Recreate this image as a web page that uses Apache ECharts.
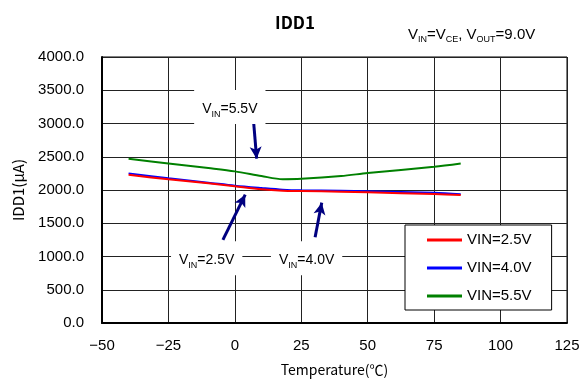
<!DOCTYPE html>
<html><head><meta charset="utf-8">
<script src="https://cdn.jsdelivr.net/npm/echarts@6/dist/echarts.min.js"></script>
<style>html,body{margin:0;padding:0;background:#fff}#c{width:583px;height:385px}</style>
</head><body><div id="c"></div>
<script>
const temps = [-40, -25, -10, 0, 10, 18, 25, 40, 50, 75, 85];
const vin25 = [2230, 2160, 2100, 2055, 2010, 1990, 1985, 1975, 1965, 1940, 1925];
const vin40 = [2250, 2175, 2110, 2065, 2030, 2005, 1995, 1988, 1982, 1958, 1935];
const vin55 = [2470, 2400, 2330, 2280, 2210, 2162, 2168, 2210, 2255, 2350, 2400];
const seriesNames = ['VIN=2.5V', 'VIN=4.0V', 'VIN=5.5V'];
const seriesColors = ['#ff0000', '#0000ff', '#008000'];
// annotation positions (data coords)
const arrows = [
  [[7.0, 3050], [8.2, 2470]],
  [[-4.5, 1250], [3.9, 1930]],
  [[30.2, 1290], [32.7, 1810]]
];
const annLabels = [
  {pos: [-1.9, 3250], sub: 'IN', val: '=5.5V'},
  {pos: [-10.6, 975], sub: 'IN', val: '=2.5V'},
  {pos: [27.0, 975], sub: 'IN', val: '=4.0V'}
];
const fontMain = 'Liberation Sans, Arial, sans-serif';
const chart = echarts.init(document.getElementById('c'));
const data = [vin25, vin40, vin55];
const series = data.map((d, i) => ({
  name: seriesNames[i], type: 'line', smooth: 0.3, symbol: 'none',
  data: temps.map((t, j) => [t, d[j]]),
  lineStyle: {color: seriesColors[i], width: 2}, itemStyle: {color: seriesColors[i]},
  z: 3 - i
}));
series.push({
  type: 'line', data: [], silent: true,
  markLine: {
    silent: true, symbol: ['none', 'arrow'], symbolSize: [9, 12],
    lineStyle: {color: '#000080', width: 3, type: 'solid'}, label: {show: false},
    data: arrows.map(a => [{coord: a[0]}, {coord: a[1]}])
  },
  markPoint: {
    silent: true, symbol: 'rect', symbolSize: 0,
    data: annLabels.map(l => ({
      coord: l.pos,
      label: {
        show: true, position: 'inside',
        formatter: '{a|V}{s|' + l.sub + '}{a|' + l.val + '}',
        backgroundColor: '#fff', padding: [10, 8, 8, 8],
        rich: {
          a: {fontSize: 14, fontFamily: fontMain, color: '#000', lineHeight: 16, verticalAlign: 'bottom'},
          s: {fontSize: 9, fontFamily: fontMain, color: '#000', lineHeight: 10, verticalAlign: 'bottom', padding: [0, 0, -3, 0]}
        }
      }
    }))
  }
});
chart.setOption({
  animation: false,
  title: [
    {text: 'IDD1', left: 290, top: 9, textAlign: 'center',
     textStyle: {fontSize: 17, fontWeight: 'bold', fontFamily: 'Noto Sans CJK JP, sans-serif', color: '#000'}},
    {text: '{a|V}{s|IN}{a|=V}{s|CE}{a|, V}{s|OUT}{a|=9.0V}', left: 403, top: 21,
     textStyle: {fontWeight: 'normal', rich: {
       a: {fontSize: 15, fontWeight: 'normal', fontFamily: fontMain, color: '#000', lineHeight: 16, verticalAlign: 'bottom'},
       s: {fontSize: 9, fontWeight: 'normal', fontFamily: fontMain, color: '#000', lineHeight: 10, verticalAlign: 'bottom', padding: [0, 0, -2, 0]}
     }}}
  ],
  legend: {
    orient: 'vertical', left: 405, top: 225, width: 152,
    backgroundColor: '#fff', borderColor: '#000', borderWidth: 1,
    padding: [6, 20, 5, 22], itemGap: 10, itemWidth: 35, itemHeight: 3, icon: 'rect',
    textStyle: {fontSize: 15, fontFamily: fontMain, color: '#000', lineHeight: 18},
    data: seriesNames
  },
  grid: {left: 102, right: 16, top: 57, bottom: 62, show: true, borderColor: '#000', borderWidth: 1},
  xAxis: {
    type: 'value', min: -50, max: 125, interval: 25,
    name: 'Temperature(℃)', nameLocation: 'middle', nameGap: 40,
    nameTextStyle: {fontSize: 14, fontFamily: 'Noto Sans CJK JP, sans-serif', color: '#000'},
    axisLine: {show: true, onZero: false, lineStyle: {color: '#000', width: 2}},
    axisTick: {show: false},
    axisLabel: {fontSize: 15, fontFamily: fontMain, color: '#000', margin: 15,
      formatter: v => String(v).replace('-', '−')},
    splitLine: {show: true, lineStyle: {color: '#222', width: 1}}
  },
  yAxis: {
    type: 'value', min: 0, max: 4000, interval: 500,
    name: 'IDD1(μA)', nameLocation: 'middle', nameGap: 76, nameRotate: 90,
    nameTextStyle: {fontSize: 15, fontFamily: 'Noto Sans CJK JP, sans-serif', color: '#000'},
    axisLine: {show: true, onZero: false, lineStyle: {color: '#000', width: 2}},
    axisTick: {show: false},
    axisLabel: {fontSize: 15, fontFamily: fontMain, color: '#000', margin: 18,
      formatter: v => v.toFixed(1)},
    splitLine: {show: true, lineStyle: {color: '#222', width: 1}}
  },
  series: series
});
</script></body></html>
